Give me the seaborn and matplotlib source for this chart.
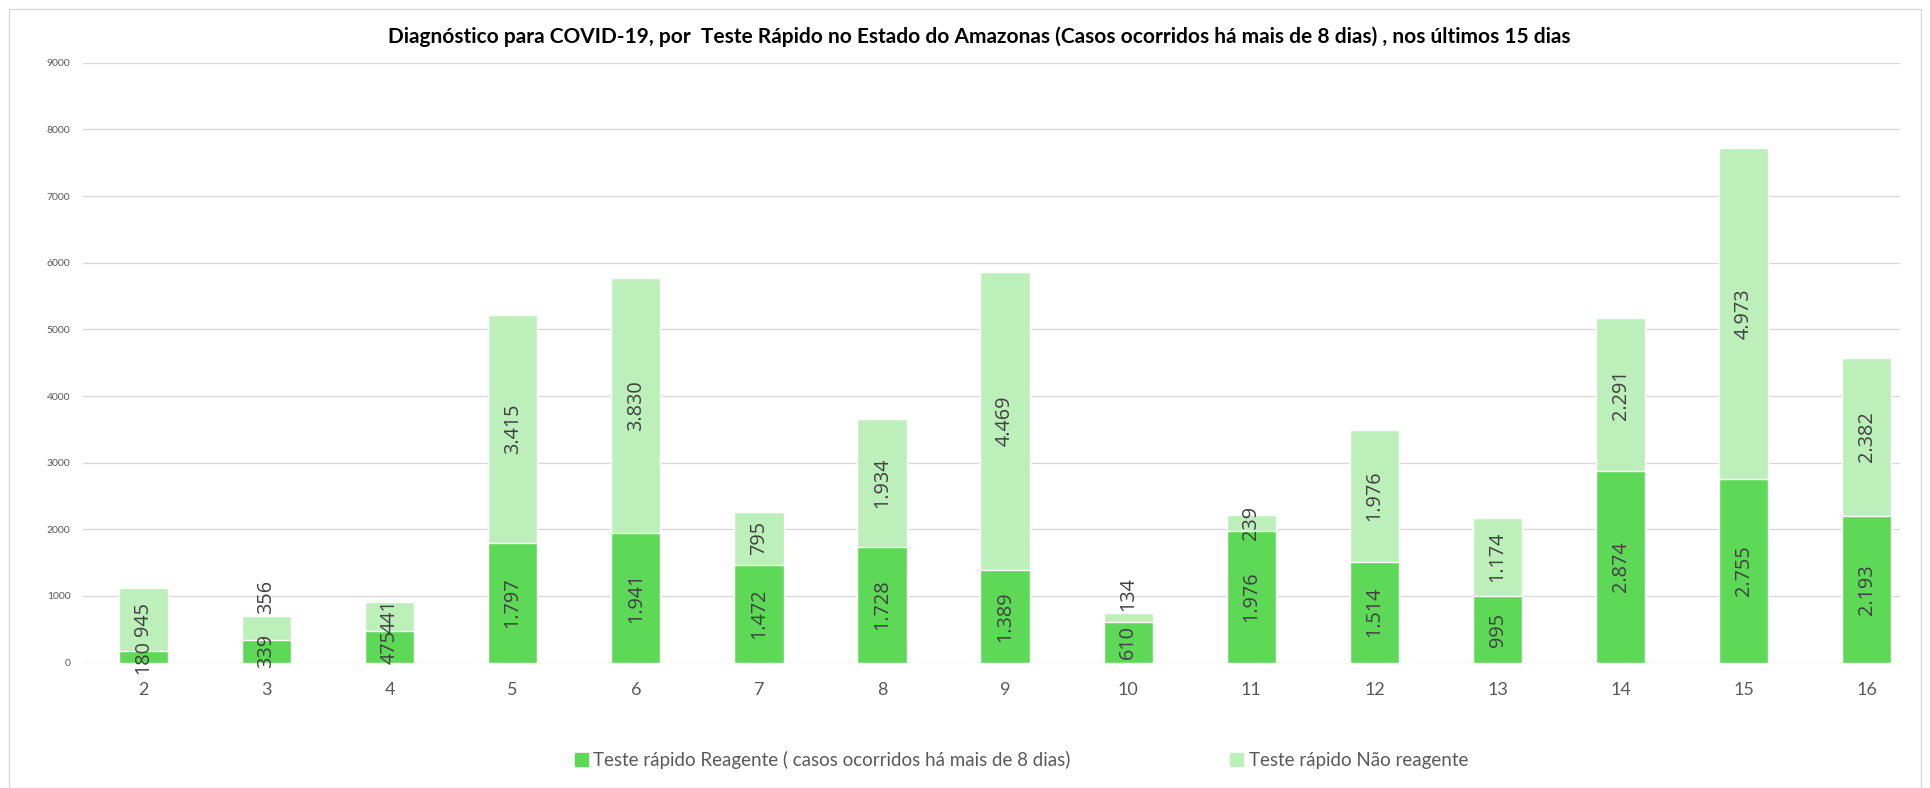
import pandas as pd
import matplotlib.pyplot as plt
import seaborn as sns
from matplotlib.patches import Patch, Rectangle

# Dados
dias = ['2', '3', '4', '5', '6', '7', '8', '9', '10', '11', '12', '13', '14', '15', '16']
reagente = [180, 339, 475, 1797, 1941, 1472, 1728, 1389, 610, 1976, 1514, 995, 2874, 2755, 2193]
nao_reagente = [945, 356, 441, 3415, 3830, 795, 1934, 4469, 134, 239, 1976, 1174, 2291, 4973, 2382]

cor_reag = '#5DD957'
cor_nao = '#BDEFBB'

df = pd.DataFrame({'dia': dias, 'reagente': reagente, 'nao_reagente': nao_reagente})
df['total'] = df['reagente'] + df['nao_reagente']

sns.set_style('white')
plt.rcParams['font.family'] = ['Lato', 'DejaVu Sans']

fig = plt.figure(figsize=(19.31, 7.88), dpi=100)
ax = fig.add_axes([0.043, 0.1591, 0.941, 0.7612])

sns.barplot(data=df, x='dia', y='total', color=cor_nao, width=0.4, saturation=1, ax=ax)
sns.barplot(data=df, x='dia', y='reagente', color=cor_reag, width=0.4, saturation=1, ax=ax)

def fmt(v):
    return f'{v:,}'.replace(',', '.')

# meia altura aproximada de um rótulo de 3 dígitos, em unidades do eixo
meia = 225
for i, (r, n) in enumerate(zip(reagente, nao_reagente)):
    ax.text(i, r / 2, fmt(r), rotation=90, ha='center', va='center',
            fontsize=14.3, color='#404040', family='Open Sans')
    topo_r = r / 2 + meia
    base_n = r + n / 2 - meia
    if base_n < topo_r and n < 400:
        # rótulo não cabe: vai para cima da barra
        ax.text(i, r + n + 30, fmt(n), rotation=90, ha='center', va='bottom',
                fontsize=14.3, color='#404040', family='Open Sans')
    else:
        ax.text(i, r + n / 2, fmt(n), rotation=90, ha='center', va='center',
                fontsize=14.3, color='#404040', family='Open Sans')

ax.set_ylim(0, 9000)
ax.set_xlim(-0.49, 14.27)
ax.set_yticks(range(0, 9001, 1000))
ax.yaxis.grid(True, color='#d9d9d9', linewidth=1)
ax.set_axisbelow(True)
for s in ax.spines.values():
    s.set_visible(False)
ax.tick_params(axis='y', labelsize=7.5, colors='#595959', length=0, pad=9)
ax.tick_params(axis='x', labelsize=13, colors='#595959', length=0, pad=14)
ax.set_xlabel('')
ax.set_ylabel('')

fig.text(0.507, 0.953, 'Diagnóstico para COVID-19, por  Teste Rápido no Estado do Amazonas (Casos ocorridos há mais de 8 dias) , nos últimos 15 dias',
         ha='center', va='center', fontsize=15, fontweight='bold', color='black')

handles = [Patch(color=cor_reag, label='Teste rápido Reagente ( casos ocorridos há mais de 8 dias)'),
           Patch(color=cor_nao, label='Teste rápido Não reagente')]
fig.legend(handles=handles, loc='center', bbox_to_anchor=(0.529, 0.035), ncol=2, frameon=False,
           fontsize=13.5, handlelength=0.7, handleheight=0.7, handletextpad=0.3,
           columnspacing=8.5, labelcolor='#595959')

fig.patches.append(Rectangle((9 / 1931, 0), (1921 - 9) / 1931, 1 - 9 / 788, transform=fig.transFigure,
                             fill=False, edgecolor='#d9d9d9', linewidth=1))

fig.savefig('out.png', dpi=100)
